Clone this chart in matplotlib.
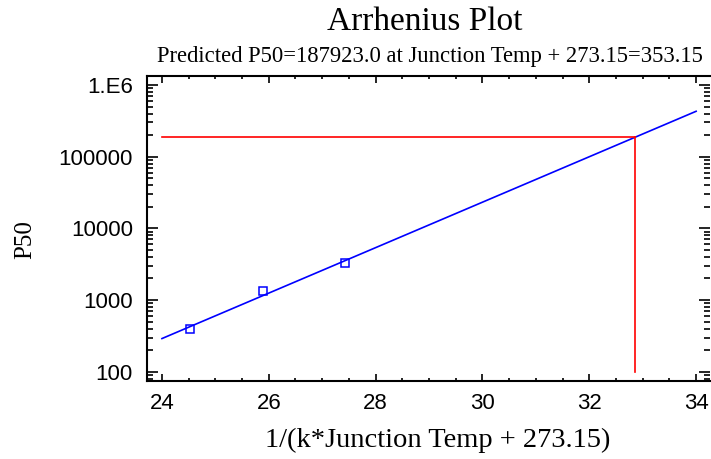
import matplotlib
matplotlib.use("Agg")
import matplotlib.pyplot as plt
from matplotlib.ticker import LogLocator, MultipleLocator, FixedLocator, FuncFormatter

# observed points (x = 1/(k*T), y = P50)
x_points = [24.53, 25.90, 27.43]
p50_points = [390, 1350, 3310]

# fitted Arrhenius line, read at its two ends
fit_x = [24.0, 34.0]
fit_p50 = [290, 430000]

# prediction at Junction Temp + 273.15 = 353.15
pred_x = 32.86
pred_p50 = 187923.0
ref_x = 24.0
floor_p50 = 100

y_ticks = [100, 1000, 10000, 100000, 1e6]
y_tick_labels = ["100", "1000", "10000", "100000", "1.E6"]
x_ticks = [24, 26, 28, 30, 32, 34]

serif = "Liberation Serif"
sans = "Liberation Sans"

fig = plt.figure(figsize=(7.11, 4.59), dpi=100)
ax = fig.add_axes([0.2063, 0.1706, 0.7923, 0.6645])

ax.plot(fit_x, fit_p50, color="#0000ff", lw=1.2)
ax.plot(x_points, p50_points, ls="none", marker="s", ms=5.5,
        mfc="none", mec="#0000ff", mew=1.1)
ax.plot([ref_x, pred_x], [pred_p50, pred_p50], color="#ff0000", lw=1.2)
ax.plot([pred_x, pred_x], [floor_p50, pred_p50], color="#ff0000", lw=1.2)

ax.set_yscale("log")
ax.set_xlim(23.714, 34.26)
ax.set_ylim(74.9, 1.349e6)

ax.yaxis.set_major_locator(FixedLocator(y_ticks))
ax.yaxis.set_major_formatter(FuncFormatter(
    lambda v, pos: y_tick_labels[y_ticks.index(v)] if v in y_ticks else ""))
ax.yaxis.set_minor_locator(LogLocator(base=10, subs=range(2, 10)))
ax.xaxis.set_major_locator(FixedLocator(x_ticks))
ax.xaxis.set_minor_locator(MultipleLocator(0.5))

ax.spines["right"].set_visible(False)
for s in ("left", "bottom", "top"):
    ax.spines[s].set_linewidth(1.5)

ax.tick_params(axis="both", which="both", direction="in",
               top=True, right=True, width=1.2)
ax.tick_params(axis="y", which="major", length=8, pad=10)
ax.tick_params(axis="y", which="minor", length=4.3)
ax.tick_params(axis="x", which="major", length=5, pad=9)
ax.tick_params(axis="x", which="minor", length=2.2)
for lab in ax.get_xticklabels() + ax.get_yticklabels():
    lab.set_fontfamily(sans)
    lab.set_fontsize(16)

fig.text(0.597, 0.953, "Arrhenius Plot", family=serif, fontsize=24,
         ha="center", va="center")
fig.text(0.605, 0.876,
         "Predicted P50=187923.0 at Junction Temp + 273.15=353.15",
         family=serif, fontsize=16.3, ha="center", va="center")
fig.text(0.615, 0.040, "1/(k*Junction Temp + 273.15)", family=serif,
         fontsize=20.5, ha="center", va="center")
fig.text(0.035, 0.477, "P50", family=serif, fontsize=18, rotation=90,
         ha="center", va="center")

fig.savefig("out.png", dpi=100)
